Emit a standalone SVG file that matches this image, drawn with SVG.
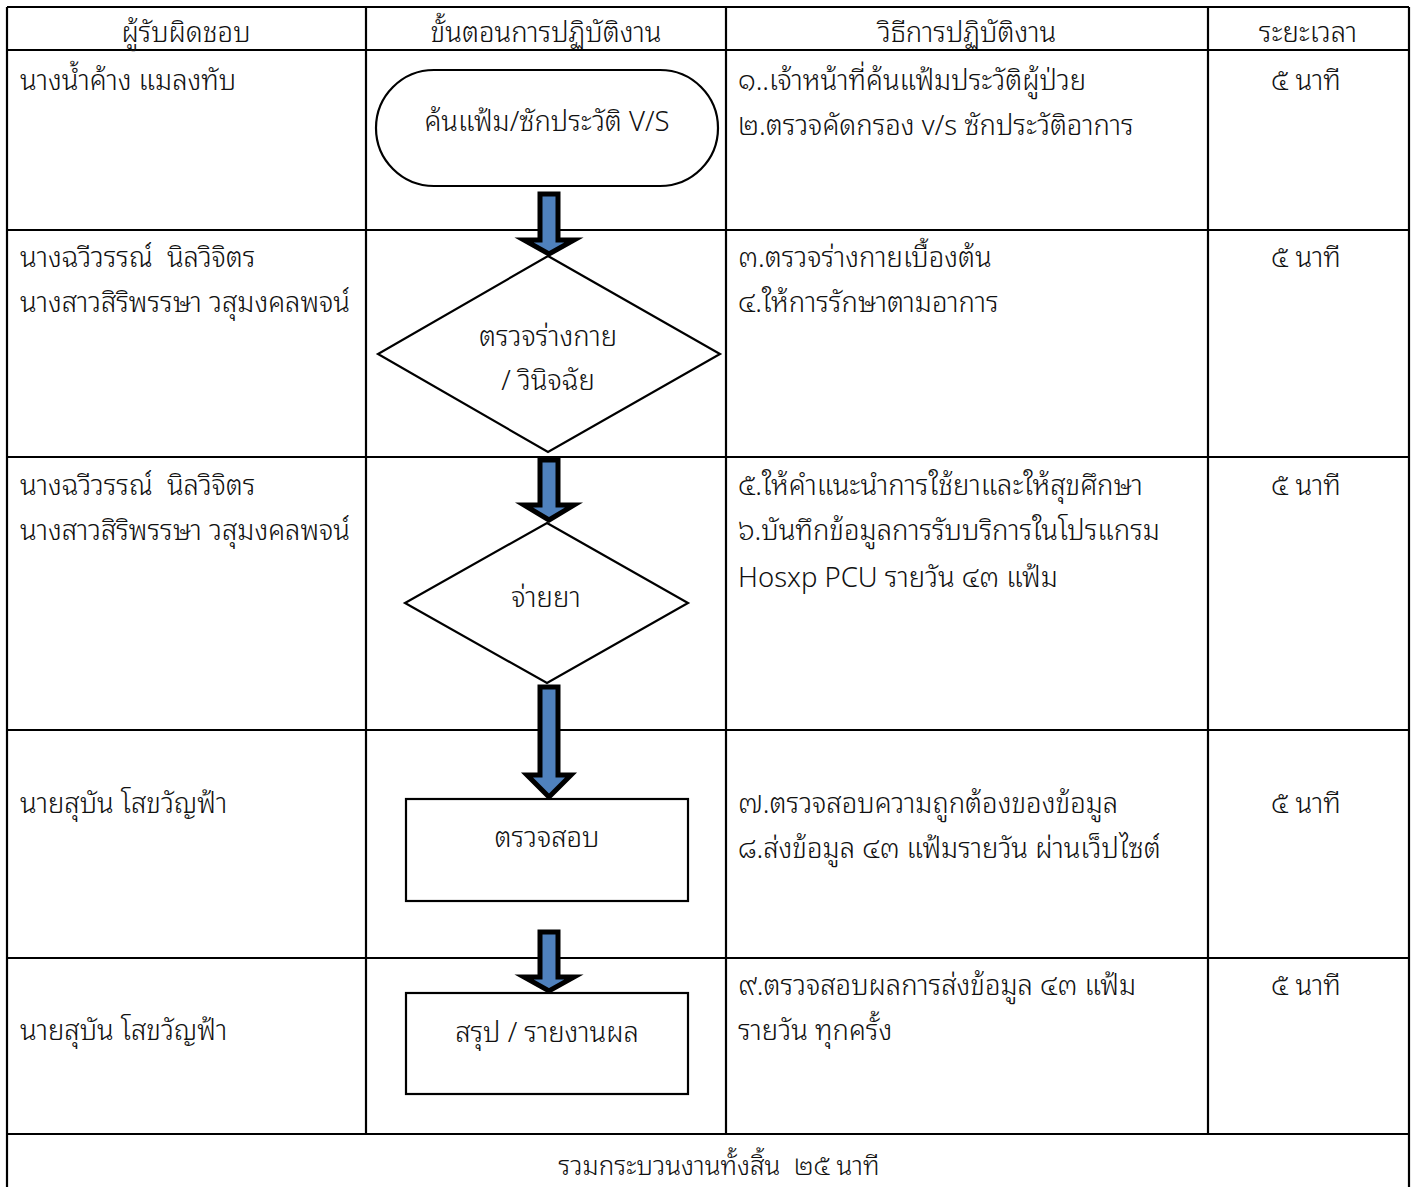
<svg xmlns="http://www.w3.org/2000/svg" width="1416" height="1187" viewBox="0 0 1416 1187">
<style>
text{font-family:"Noto Sans Thai Looped","Noto Sans Thai","Noto Sans","DejaVu Sans",sans-serif;font-size:27.5px;font-weight:300;fill:#111;white-space:pre}
.c{text-anchor:middle}
.h{font-size:27.5px}
.grid{stroke:#000;stroke-width:2.2;fill:none}
.shape{fill:#fff;stroke:#000;stroke-width:2.2}
.arrow{fill:#4F81BD;stroke:#000;stroke-width:5;stroke-linejoin:miter}
</style>
<rect width="1416" height="1187" fill="#fff"/>
<g id="table" class="grid">
<path d="M7,7 H1409 M7,50 H1409 M7,230 H1409 M7,457 H1409 M7,730 H1409 M7,958 H1409 M7,1134 H1409"/>
<path d="M7,7 V1190 M1409,7 V1190 M366,7 V1134 M726,7 V1134 M1208,7 V1134"/>
</g>
<g id="headers">
<text class="c h" x="186" y="42">ผู้รับผิดชอบ</text>
<text class="c h" x="546" y="42">ขั้นตอนการปฏิบัติงาน</text>
<text class="c h" x="967" y="42">วิธีการปฏิบัติงาน</text>
<text class="c h" x="1308" y="42">ระยะเวลา</text>
</g>
<g id="responsible">
<text x="20" y="90">นางน้ำค้าง แมลงทับ</text>
<text x="20" y="267">นางฉวีวรรณ์  นิลวิจิตร</text>
<text x="20" y="312">นางสาวสิริพรรษา วสุมงคลพจน์</text>
<text x="20" y="495">นางฉวีวรรณ์  นิลวิจิตร</text>
<text x="20" y="540">นางสาวสิริพรรษา วสุมงคลพจน์</text>
<text x="20" y="813">นายสุบัน โสขวัญฟ้า</text>
<text x="20" y="1040">นายสุบัน โสขวัญฟ้า</text>
</g>
<g id="methods">
<text x="738" y="90">๑..เจ้าหน้าที่ค้นแฟ้มประวัติผู้ป่วย</text>
<text x="738" y="135">๒.ตรวจคัดกรอง v/s ซักประวัติอาการ</text>
<text x="738" y="267">๓.ตรวจร่างกายเบื้องต้น</text>
<text x="738" y="312">๔.ให้การรักษาตามอาการ</text>
<text x="738" y="495">๕.ให้คำแนะนำการใช้ยาและให้สุขศึกษา</text>
<text x="738" y="540">๖.บันทึกข้อมูลการรับบริการในโปรแกรม</text>
<text x="738" y="587">Hosxp PCU รายวัน ๔๓ แฟ้ม</text>
<text x="738" y="813">๗.ตรวจสอบความถูกต้องของข้อมูล</text>
<text x="738" y="858">๘.ส่งข้อมูล ๔๓ แฟ้มรายวัน ผ่านเว็ปไซต์</text>
<text x="738" y="995">๙.ตรวจสอบผลการส่งข้อมูล ๔๓ แฟ้ม</text>
<text x="738" y="1040">รายวัน ทุกครั้ง</text>
</g>
<g id="durations">
<text class="c" x="1306" y="90">๕ นาที</text>
<text class="c" x="1306" y="267">๕ นาที</text>
<text class="c" x="1306" y="495">๕ นาที</text>
<text class="c" x="1306" y="813">๕ นาที</text>
<text class="c" x="1306" y="995">๕ นาที</text>
</g>
<g id="connectors">
<path class="arrow" d="M540,194 H558 V240 H574 L549,254 L524,240 H540 Z"/>
<path class="arrow" d="M540,460 H558 V505 H574 L549,520 L524,505 H540 Z"/>
<path class="arrow" d="M540,687 H558 V775 H571 L549,797 L527,775 H540 Z"/>
<path class="arrow" d="M540,932 H558 V977 H574 L549,991 L524,977 H540 Z"/>
</g>
<g id="n1">
<rect class="shape" x="376" y="70" width="342" height="116" rx="58" ry="58"/>
<text class="c" x="547" y="131">ค้นแฟ้ม/ซักประวัติ V/S</text>
</g>
<g id="n2">
<polygon class="shape" points="548,256 720,354 548,452 378,354"/>
<text class="c" x="548" y="346">ตรวจร่างกาย</text>
<text class="c" x="548" y="390">/ วินิจฉัย</text>
</g>
<g id="n3">
<polygon class="shape" points="547,523 688,603 547,683 405,603"/>
<text class="c" x="546" y="607">จ่ายยา</text>
</g>
<g id="n4">
<rect class="shape" x="406" y="799" width="282" height="102"/>
<text class="c" x="547" y="847">ตรวจสอบ</text>
</g>
<g id="n5">
<rect class="shape" x="406" y="993" width="282" height="101"/>
<text class="c" x="547" y="1042">สรุป / รายงานผล</text>
</g>
<g id="footer">
<text class="c" x="719" y="1175" style="font-size:26px">รวมกระบวนงานทั้งสิ้น  ๒๕ นาที</text>
</g>
</svg>
